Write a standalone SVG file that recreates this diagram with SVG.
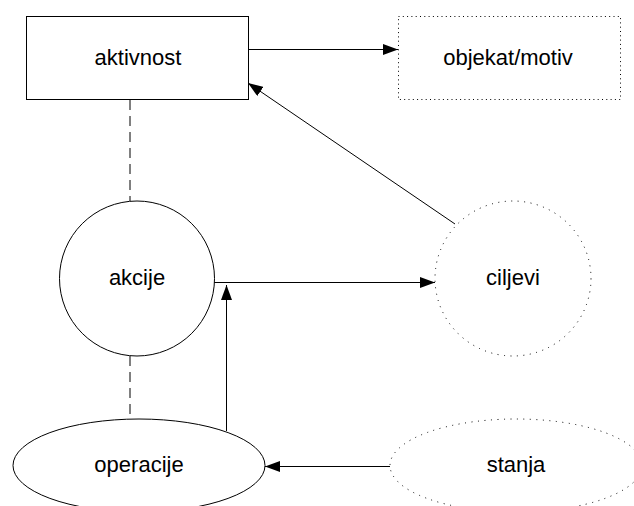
<svg xmlns="http://www.w3.org/2000/svg" width="634" height="506" viewBox="0 0 634 506">
<style>
text{font-family:"Liberation Sans",Arial,Helvetica,sans-serif;font-size:22px;fill:#000;text-anchor:middle}
.solid{fill:#fff;stroke:#000;stroke-width:1}
.dotr{fill:#fff;stroke:#000;stroke-width:1;stroke-dasharray:1 3.3}
.dote{fill:#fff;stroke:#000;stroke-width:1;stroke-dasharray:1 5.5}
.c{stroke:#000;stroke-width:1;fill:none}
.dash{stroke:#000;stroke-width:1;fill:none;stroke-dasharray:10 6}
</style>
<defs>
<marker id="ah" viewBox="0 0 15 11" refX="15" refY="5.5" markerWidth="15" markerHeight="11" markerUnits="userSpaceOnUse" orient="auto">
<path d="M0,0 L15,5.5 L0,11 Z" fill="#000"/>
</marker>
</defs>
<g id="connectors">
<line class="dash" x1="130" y1="100" x2="130" y2="201"/>
<line class="dash" x1="130" y1="356" x2="130" y2="419"/>
<line class="c" x1="248" y1="49.5" x2="398" y2="49.5" marker-end="url(#ah)"/>
<line class="c" x1="455" y1="224" x2="248" y2="83" marker-end="url(#ah)"/>
<line class="c" x1="214" y1="282.5" x2="435" y2="282.5" marker-end="url(#ah)"/>
<line class="c" x1="226.5" y1="431" x2="226.5" y2="285" marker-end="url(#ah)"/>
<line class="c" x1="390" y1="466.5" x2="265" y2="466.5" marker-end="url(#ah)"/>
</g>
<g id="aktivnost"><rect class="solid" x="26.5" y="16.5" width="222" height="83"/><text x="138" y="65">aktivnost</text></g>
<g id="objekat"><rect class="dotr" x="398.5" y="16.5" width="222" height="83"/><text x="508" y="65">objekat/motiv</text></g>
<g id="akcije"><ellipse class="solid" cx="137" cy="278.5" rx="77.5" ry="77.5"/><text x="137" y="285">akcije</text></g>
<g id="ciljevi"><ellipse class="dote" cx="513" cy="278.5" rx="78" ry="77.5"/><text x="513" y="285">ciljevi</text></g>
<g id="operacije"><ellipse class="solid" cx="139" cy="465.5" rx="126" ry="46.5"/><text x="139" y="472">operacije</text></g>
<g id="stanja"><ellipse class="dote" cx="516" cy="465.5" rx="126" ry="46.5"/><text x="516" y="472">stanja</text></g>
</svg>
